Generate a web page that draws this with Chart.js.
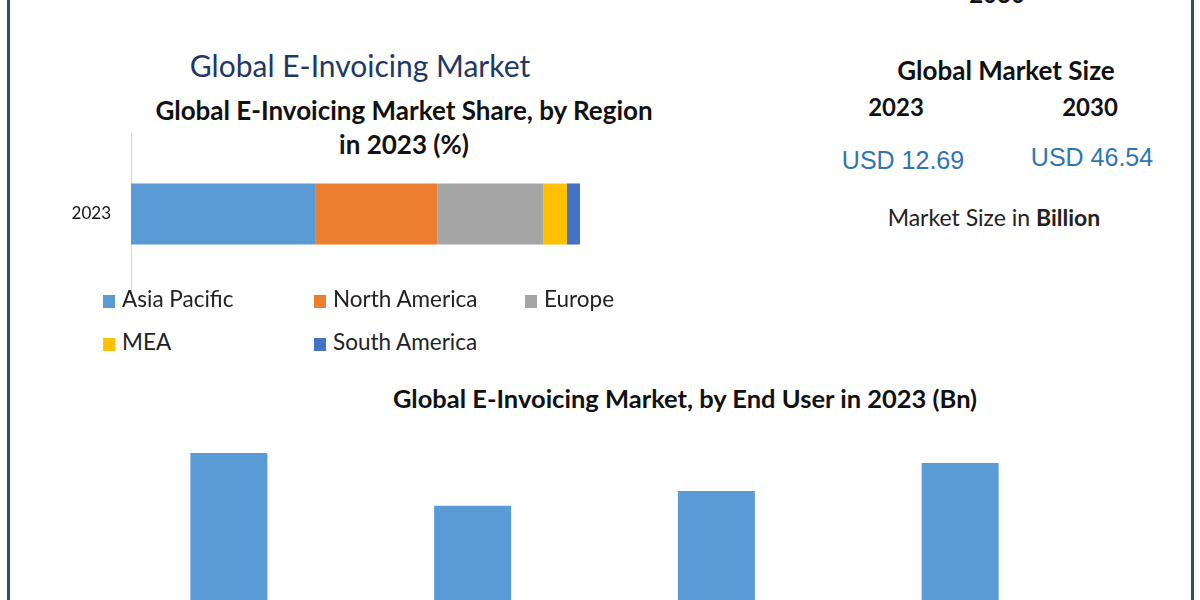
<!DOCTYPE html>
<html>
<head>
<meta charset="utf-8">
<script src="https://cdn.jsdelivr.net/npm/chart.js@4/dist/chart.umd.min.js"></script>
<style>
  html, body { margin: 0; padding: 0; }
  body { width: 1200px; height: 600px; overflow: hidden; position: relative; background: #fff; font-family: Lato, "Open Sans", sans-serif; }
  .t { position: absolute; transform: translate(-50%, -50%); white-space: nowrap; }
  .edge { position: absolute; top: 0; width: 3px; height: 600px; background: #2f4b5e; }
  #regionBox { position: absolute; left: 0; top: 133px; width: 580px; height: 162px; }
  #userBox { position: absolute; left: 0; top: 362px; width: 1200px; height: 318px; }
  .lg { position: absolute; font-size: 22.5px; color: #222; white-space: nowrap; }
  .lg span { display: inline-block; width: 12px; height: 13px; margin-right: 7px; vertical-align: -1px; }
</style>
</head>
<body>
<div class="edge" style="left:7px"></div>
<div class="edge" style="left:1191px"></div>

<div class="t" style="left:997px;top:-7px;font-size:24px;font-weight:bold;color:#111">2030</div>
<div class="t" style="left:360px;top:65px;font-size:30px;color:#1f3864">Global E-Invoicing Market</div>
<div class="t" style="left:404px;top:110px;font-size:26px;font-weight:bold;color:#111">Global E-Invoicing Market Share, by Region</div>
<div class="t" style="left:404px;top:144px;font-size:26px;font-weight:bold;color:#111">in 2023 (%)</div>

<div class="t" style="left:1006px;top:70px;font-size:26px;font-weight:bold;color:#111">Global Market Size</div>
<div class="t" style="left:896px;top:106px;font-size:24px;font-weight:bold;color:#111">2023</div>
<div class="t" style="left:1090px;top:106px;font-size:24px;font-weight:bold;color:#111">2030</div>
<div class="t" style="left:903px;top:160px;font-size:25px;font-family:'Liberation Sans',Arial,sans-serif;color:#2e75b6">USD 12.69</div>
<div class="t" style="left:1092px;top:157px;font-size:25px;font-family:'Liberation Sans',Arial,sans-serif;color:#2e75b6">USD 46.54</div>
<div class="t" style="left:994px;top:217px;font-size:23px;color:#222">Market Size in <b>Billion</b></div>

<div id="regionBox"><canvas id="regionChart"></canvas></div>
<div id="legend"></div>

<div class="t" style="left:685px;top:398px;font-size:25.5px;font-weight:bold;color:#111">Global E-Invoicing Market, by End User in 2023 (Bn)</div>
<div id="userBox"><canvas id="userChart"></canvas></div>

<script>
// region share, 2023 (%)
var years = ['2023'];
var regionLabels = ['Asia Pacific', 'North America', 'Europe', 'MEA', 'South America'];
var regionShare = [41.0, 27.2, 23.6, 5.3, 2.9];
var regionColors = ['#5b9bd5', '#ed7d31', '#a5a5a5', '#ffc000', '#4472c4'];

// end user, 2023 (USD Bn)
var endUsers = ['Government', 'BFSI', 'Energy & Utilities', 'Others'];
var endUserValues = [3.57, 2.74, 2.97, 3.41];

var regionSets = regionLabels.map(function (name, i) {
  return { label: name, data: [regionShare[i]], backgroundColor: regionColors[i],
           categoryPercentage: 1, barPercentage: 0.377 };
});

new Chart(document.getElementById('regionChart'), {
  type: 'bar',
  data: { labels: years, datasets: regionSets },
  options: {
    indexAxis: 'y',
    responsive: true,
    maintainAspectRatio: false,
    animation: false,
    layout: { padding: 0 },
    plugins: { legend: { display: false }, tooltip: { enabled: false } },
    scales: {
      x: { stacked: true, display: false, min: 0, max: 100 },
      y: {
        stacked: true,
        grid: { display: false },
        border: { display: true, color: '#d9d9d9', width: 1 },
        ticks: { color: '#111', font: { family: 'Lato', size: 17 }, padding: 12 },
        afterFit: function (scale) {
          scale.width = 131;
          scale.paddingTop = 0;
          scale.paddingBottom = 0;
        }
      }
    }
  }
});

// legend (two rows, three columns)
var legendBox = document.getElementById('legend');
regionLabels.forEach(function (name, i) {
  var d = document.createElement('div');
  d.className = 'lg';
  d.style.left = (103 + (i % 3) * 211) + 'px';
  d.style.top = (285 + Math.floor(i / 3) * 43) + 'px';
  d.innerHTML = '<span style="background:' + regionColors[i] + '"></span>' + name;
  legendBox.appendChild(d);
});

new Chart(document.getElementById('userChart'), {
  type: 'bar',
  data: {
    labels: endUsers,
    datasets: [{ data: endUserValues, backgroundColor: '#5b9bd5',
                 categoryPercentage: 1, barPercentage: 0.316 }]
  },
  options: {
    responsive: true,
    maintainAspectRatio: false,
    animation: false,
    layout: { padding: { left: 107, right: 118, top: 0, bottom: 0 } },
    plugins: { legend: { display: false }, tooltip: { enabled: false } },
    scales: {
      x: { display: false },
      y: { display: false, min: 0, max: 5 }
    }
  }
});
</script>
</body>
</html>
